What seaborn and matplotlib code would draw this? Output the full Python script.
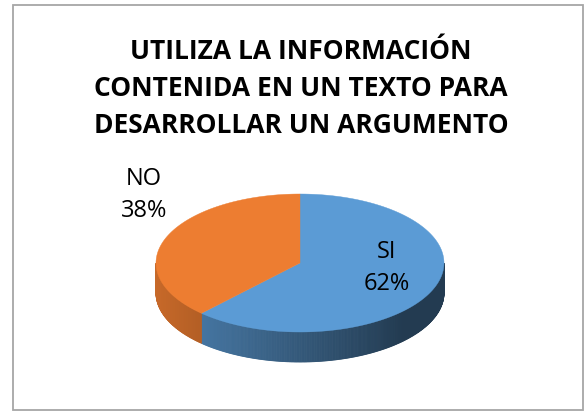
import numpy as np
import matplotlib.pyplot as plt
import seaborn as sns
from matplotlib.patches import Polygon, Rectangle

##### Daten #####

categorias = ["SI", "NO"]
porcentajes = [62, 38]
colores = ["#5b9bd5", "#ed7d31"]
titulo = ["UTILIZA LA INFORMACIÓN", "CONTENIDA EN UN TEXTO PARA", "DESARROLLAR UN ARGUMENTO"]

##### Grafico #####

sns.set_theme(style="white")
plt.rcParams['font.family'] = ['Open Sans', 'DejaVu Sans']

fig = plt.figure(figsize=(5.86, 4.14), dpi=100)
ax = fig.add_axes([0, 0, 1, 1])
ax.set_xlim(0, 586)
ax.set_ylim(414, 0)
ax.axis('off')

# Rahmen
ax.add_patch(Rectangle((13, 6), 570, 405, fill=False, edgecolor="#a6a6a6", lw=1.3))

# Titel
for i, linea in enumerate(titulo):
    ax.text(301, 59 + i * 37, linea, ha='center', va='baseline',
            fontsize=19, fontweight='bold', color='black')

# Kuchen in 3D-Optik
cx, cy, a, b, h = 300, 264, 144, 69, 30

def punto(t):
    t = np.radians(t)
    return cx + a * np.cos(t), cy - b * np.sin(t)

def sombra(color, x):
    rgb = np.array(plt.matplotlib.colors.to_rgb(color))
    f = 0.84 - 0.48 * (x - (cx - a)) / (1.8 * a)
    return tuple(rgb * max(f, 0.38))

# Winkel: SI startet oben und laeuft im Uhrzeigersinn
angulos = []
inicio = 90
for p in porcentajes:
    fin = inicio - p * 3.6
    angulos.append((fin, inicio))
    inicio = fin

# Seitenwaende (nur vordere Haelfte sichtbar)
for (t0, t1), col in zip(angulos, colores):
    t0m, t1m = t0 % 360, t0 % 360 + (t1 - t0)
    lo, hi = max(t0m, 180), min(t1m, 360)
    if hi <= lo:
        lo, hi = max(t0m - 360, 180), min(t1m - 360, 360)
    if hi <= lo:
        continue
    ts = np.linspace(lo, hi, int(hi - lo) * 2 + 2)
    for s0, s1 in zip(ts[:-1], ts[1:]):
        x0, y0 = punto(s0)
        x1, y1 = punto(s1)
        c = sombra(col, (x0 + x1) / 2)
        ax.add_patch(Polygon([(x0, y0), (x1, y1), (x1, y1 + h), (x0, y0 + h)],
                             closed=True, facecolor=c, edgecolor=c, lw=0.6))

# Oberseite
for (t0, t1), col in zip(angulos, colores):
    ts = np.linspace(t0, t1, 200)
    xs, ys = punto(ts)
    verts = [(cx, cy)] + list(zip(xs, ys))
    ax.add_patch(Polygon(verts, closed=True, facecolor=col, edgecolor=col, lw=0.3))

# Beschriftungen
etiquetas = {"SI": (387, 258), "NO": (144, 185)}
for cat, p in zip(categorias, porcentajes):
    x, y = etiquetas[cat]
    ax.text(x, y, cat, ha='center', va='baseline', fontsize=17, color='black')
    ax.text(x, y + 32, f"{p}%", ha='center', va='baseline', fontsize=17, color='black')

fig.savefig("out.png", dpi=100)
